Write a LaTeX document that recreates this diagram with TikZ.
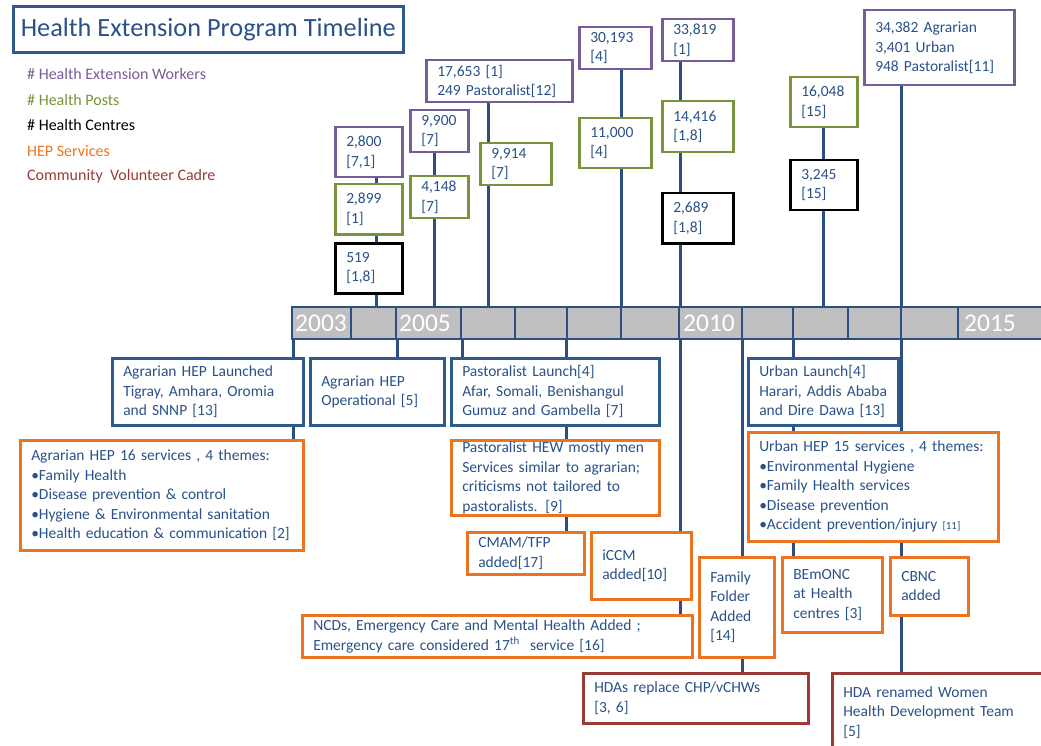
\documentclass[tikz,border=0pt]{standalone}
\usepackage{fontspec}
\setmainfont{Carlito}
\usepackage{xcolor}
\usepackage{tikz}
\usetikzlibrary{positioning,backgrounds}
\definecolor{hepblue}{HTML}{2A5189}
\definecolor{boxblue}{HTML}{2E5A8E}
\definecolor{lineblue}{HTML}{2B4F82}
\definecolor{hewpurple}{HTML}{775D98}
\definecolor{postgreen}{HTML}{77933C}
\definecolor{svcorange}{HTML}{EC7420}
\definecolor{cadrered}{HTML}{9B3B38}
\definecolor{bargrey}{HTML}{BFBFBF}
\tikzset{
  box/.style={rectangle, draw=#1, line width=2.5pt, fill=white, text=hepblue,
              align=left, anchor=north west, inner xsep=11pt, inner ysep=1pt,
              font=\fontsize{15.5}{19.5}\selectfont},
  sz/.style 2 args={text width=#1pt-22pt, minimum height=#2pt},
  ttl/.style={rectangle, draw=boxblue, line width=2.6pt, anchor=north west,
              text=hepblue, font=\fontsize{26.3}{30}\selectfont},
  key/.style={anchor=base west, inner sep=0pt, text=#1,
              font=\fontsize{16}{19}\selectfont},
  yr/.style={anchor=west, inner sep=0pt, text=white,
             font=\fontsize{25.5}{26}\selectfont},
  cell/.style={draw=lineblue, line width=2pt, fill=bargrey},
  conn/.style={draw=lineblue, line width=3pt},
}
\begin{document}
\begin{tikzpicture}[x=1pt,y=-1pt]
  \path[use as bounding box, clip] (0,0) rectangle (1041,746);

  % title and key
  \node[ttl, minimum width=390pt, minimum height=46pt] (title) at (12,5) {Health Extension Program Timeline};
  \node[key=hewpurple] (kw) at (27,80) {\# Health Extension Workers};
  \node[key=postgreen] (kp) at (27,106) {\# Health Posts};
  \node[key=black] (kc) at (27,131) {\# Health Centres};
  \node[key=svcorange] (ks) at (27,157) {HEP Services};
  \node[key=cadrered] (kv) at (27,181) {Community\ \ Volunteer Cadre};

  % year bar
  \foreach \a/\b in {292/351,351/396,396/461,461/515,515/567,567/621,621/679,
                     679/742,742/793,793/848,848/901,901/958,958/1050}
    \draw[cell] (\a,307) rectangle (\b,339);
  \node[yr] (y03) at (295,323) {2003};
  \node[yr] (y05) at (399,323) {2005};
  \node[yr] (y10) at (683,323) {2010};
  \node[yr] (y15) at (964,323) {2015};

  % counts above the bar
  \node[box=hewpurple, sz={67}{50}] (w03) at (334,126) {2,800\\[0pt][7,1]};
  \node[box=postgreen, sz={67}{50}] (p03) at (334,183) {2,899\\[0pt][1]};
  \node[box=black,     sz={67}{50}] (c03) at (334,242) {519\\[0pt][1,8]};
  \node[box=hewpurple, sz={58}{42}] (w05) at (409,109) {9,900\\[0pt][7]};
  \node[box=postgreen, sz={58}{42}] (p05) at (409,175) {4,148\\[0pt][7]};
  \node[box=hewpurple, sz={146}{42}] (w06) at (425,59) {17,653 [1]\\249 Pastoralist[12]};
  \node[box=postgreen, sz={71}{42}] (p06) at (479,142) {9,914\\[0pt][7]};
  \node[box=hewpurple, sz={72}{42}] (w08) at (578,26) {30,193\\[0pt][4]};
  \node[box=postgreen, sz={72}{50}] (p08) at (578,117) {11,000\\[0pt][4]};
  \node[box=hewpurple, sz={71}{42}] (w09) at (661,18) {33,819\\[0pt][1]};
  \node[box=postgreen, sz={71}{51}] (p09) at (661,100) {14,416\\[0pt][1,8]};
  \node[box=black,     sz={71}{50}] (c09) at (661,192) {2,689\\[0pt][1,8]};
  \node[box=postgreen, sz={67}{50}] (p12) at (789,76) {16,048\\[0pt][15]};
  \node[box=black,     sz={67}{50}] (c12) at (789,159) {3,245\\[0pt][15]};
  \node[box=hewpurple, sz={150}{75}] (w14) at (863,9) {34,382 Agrarian\\3,401 Urban\\948 Pastoralist[11]};

  % events below the bar
  \node[box=boxblue, sz={191}{67}] (l03) at (111,357) {Agrarian HEP Launched\\Tigray, Amhara, Oromia\\and SNNP [13]};
  \node[box=boxblue, sz={134}{67}] (o04) at (309,357) {Agrarian HEP\\Operational [5]};
  \node[box=svcorange, sz={283}{110}] (s03) at (19,439) {Agrarian HEP 16 services , 4 themes:\\\textbullet Family Health\\\textbullet Disease prevention \& control\\\textbullet Hygiene \& Environmental sanitation\\\textbullet Health education \& communication [2]};
  \node[box=boxblue, sz={208}{67}] (l06) at (450,357) {Pastoralist Launch[4]\\Afar, Somali, Benishangul\\Gumuz and Gambella [7]};
  \node[box=svcorange, sz={208}{75}] (s06) at (450,439) {Pastoralist HEW mostly men\\Services similar to agrarian;\\criticisms not tailored to\\pastoralists. [9]};
  \node[box=boxblue, sz={150}{67}] (l11) at (747,357) {Urban Launch[4]\\Harari, Addis Ababa\\and Dire Dawa [13]};
  \node[box=svcorange, sz={250}{109}] (s11) at (747,431) {Urban HEP 15 services , 4 themes:\\\textbullet Environmental Hygiene\\\textbullet Family Health services\\\textbullet Disease prevention\\\textbullet Accident prevention/injury {\fontsize{11}{13}\selectfont[11]}};
  \node[box=svcorange, sz={117}{42}] (cm) at (466,531) {CMAM/TFP\\added[17]};
  \node[box=svcorange, sz={100}{67}] (ic) at (590,531) {iCCM\\added[10]};
  \node[box=svcorange, sz={390}{42}] (nc) at (301,614) {NCDs, Emergency Care and Mental Health Added ;\\Emergency care considered 17\textsuperscript{th}\ \ service [16]};
  \node[box=svcorange, sz={75}{100}] (ff) at (698,556) {Family\\Folder\\Added\\[0pt][14]};
  \node[box=svcorange, sz={100}{75}] (bm) at (781,556) {BEmONC\\at Health\\centres [3]};
  \node[box=svcorange, sz={78}{58}] (cb) at (889,556) {CBNC\\added};
  \node[box=cadrered, sz={225}{50}] (hd) at (582,672) {HDAs replace CHP/vCHWs\\[0pt][3, 6]};
  \node[box=cadrered, sz={225}{78}] (hr) at (831,672) {HDA renamed Women\\Health Development Team\\[0pt][5]};

  % connectors
  \coordinate (k03) at (376,307);
  \coordinate (k05) at (434,307);
  \coordinate (k06) at (488,307);
  \coordinate (k08) at (621,307);
  \coordinate (k09) at (680,323);
  \coordinate (k12) at (823,307);
  \coordinate (k14) at (901,323);
  \coordinate (b03) at (293,339);
  \coordinate (b04) at (397,339);
  \coordinate (b06) at (462,339);
  \coordinate (b07) at (566,339);
  \coordinate (b11) at (742,339);
  \coordinate (b12) at (793,339);
  \begin{scope}[on background layer]
    \draw[conn] (w03.south -| k03) -- (k03);
    \draw[conn] (w05.south -| k05) -- (k05);
    \draw[conn] (w06.south -| k06) -- (k06);
    \draw[conn] (w08.south -| k08) -- (k08);
    \draw[conn] (w09.south -| k09) -- (nc.north -| k09);
    \draw[conn] (p12.south -| k12) -- (k12);
    \draw[conn] (w14.south -| k14) -- (hr.north -| k14);
    \draw[conn] (b03) -- (s03.north -| b03);
    \draw[conn] (b04) -- (o04.north -| b04);
    \draw[conn] (b06) -- (l06.north -| b06);
    \draw[conn] (b07) -- (cm.north -| b07);
    \draw[conn] (b11) -- (hd.north -| b11);
    \draw[conn] (b12) -- (bm.north -| b12);
  \end{scope}
\end{tikzpicture}
\end{document}
